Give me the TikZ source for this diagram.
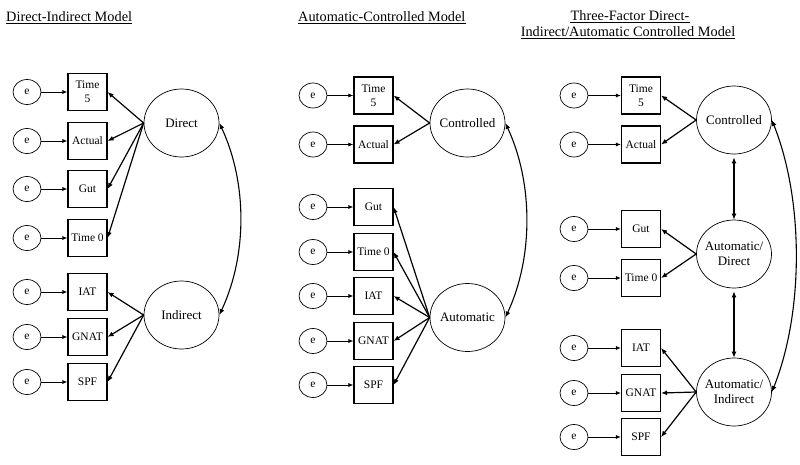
\documentclass[tikz,border=0pt]{standalone}
\usepackage{fontspec}
\setmainfont{Liberation Serif}
\usetikzlibrary{shapes.geometric,arrows.meta}
\begin{document}
\begin{tikzpicture}[x=1pt,y=-1pt,
  err/.style={ellipse,draw,line width=0.7pt,minimum width=28pt,minimum height=25pt,inner sep=0pt,font=\fontsize{11.5}{13}\selectfont},
  obs/.style={rectangle,draw,line width=1.1pt,minimum width=39pt,minimum height=37pt,inner sep=0pt,align=center,font=\fontsize{11.5}{14}\selectfont},
  lat/.style={ellipse,draw,line width=0.7pt,minimum width=75pt,minimum height=68pt,inner sep=0pt},
  lattext/.style={align=center,inner sep=0pt,font=\fontsize{13}{15}\selectfont},
  ttl/.style={inner sep=0pt,font=\fontsize{14.3}{16}\selectfont},
  uline/.style={line width=0.6pt},
  earr/.style={-{Latex[length=5pt,width=4pt]},line width=0.8pt},
  larr/.style={-{Latex[length=6pt,width=5pt]},line width=1.2pt},
  corr/.style={{Latex[length=6pt,width=5pt]}-{Latex[length=6pt,width=5pt]},line width=1.1pt}]
\useasboundingbox (0,0) rectangle (800,464);

% titles
\node[ttl,anchor=base west] (t1) at (6,21) {Direct-Indirect Model};
\draw[uline] ([yshift=-2.5pt]t1.base west) -- ([yshift=-2.5pt]t1.base east);
\node[ttl,anchor=base west] (t2) at (298,21) {Automatic-Controlled Model};
\draw[uline] ([yshift=-2.5pt]t2.base west) -- ([yshift=-2.5pt]t2.base east);
\node[ttl,anchor=base] (t3a) at (630,20) {Three-Factor Direct-};
\draw[uline] ([yshift=-2.5pt]t3a.base west) -- ([yshift=-2.5pt]t3a.base east);
\node[ttl,anchor=base] (t3b) at (628,36) {Indirect/Automatic Controlled Model};
\draw[uline] ([yshift=-2.5pt]t3b.base west) -- ([yshift=-2.5pt]t3b.base east);

% ---------- panel 1 ----------
\node[lat] (D1) at (181.5,123) {};
\node[lattext] (D1t) at (D1) {Direct};
\node[lat] (I1) at (181.5,315) {};
\node[lattext] (I1t) at (I1) {Indirect};
\foreach \n/\y/\t in {a/92/{Time\\5}, b/141/Actual, c/189/Gut, d/238/{Time 0}, f/292/IAT, g/337/GNAT, h/382/SPF} {
  \node[err] (pAe\n) at (27,\y) {e};
  \node[obs] (pAo\n) at (87.5,\y) {\t};
  \draw[earr] (pAe\n) -- (pAo\n);
}
\foreach \n in {a,b,c,d} \draw[larr] (D1.west) -- (pAo\n.east);
\foreach \n in {f,g,h} \draw[larr] (I1.west) -- (pAo\n.east);
\draw[corr] (D1.east) .. controls +(28,60) and +(28,-60) .. (I1.east);

% ---------- panel 2 ----------
\node[lat] (C2) at (467.5,123) {};
\node[lattext] (C2t) at (C2) {Controlled};
\node[lat] (A2) at (467.5,317.5) {};
\node[lattext] (A2t) at (A2) {Automatic};
\foreach \n/\y/\t in {a/95.5/{Time\\5}, b/144.5/Actual, c/207/Gut, d/252/{Time 0}, f/296/IAT, g/341/GNAT, h/385/SPF} {
  \node[err] (pBe\n) at (313,\y) {e};
  \node[obs] (pBo\n) at (373.5,\y) {\t};
  \draw[earr] (pBe\n) -- (pBo\n);
}
\foreach \n in {a,b} \draw[larr] (C2.west) -- (pBo\n.east);
\foreach \n in {c,d,f,g,h} \draw[larr] (A2.west) -- (pBo\n.east);
\draw[corr] (C2.east) .. controls +(28,60) and +(28,-60) .. (A2.east);

% ---------- panel 3 ----------
\node[lat] (C3) at (734,120) {};
\node[lattext] (C3t) at (C3) {Controlled};
\node[lat] (AD3) at (734,254) {};
\node[lattext] (AD3t) at (AD3) {Automatic/\\Direct};
\node[lat] (AI3) at (734,392) {};
\node[lattext] (AI3t) at (AI3) {Automatic/\\Indirect};
\foreach \n/\y/\t in {a/95.5/{Time\\5}, b/144.5/Actual, c/229/Gut, d/278/{Time 0}, f/348/IAT, g/393/GNAT, h/437/SPF} {
  \node[err] (pCe\n) at (574,\y) {e};
  \node[obs] (pCo\n) at (641,\y) {\t};
  \draw[earr] (pCe\n) -- (pCo\n);
}
\foreach \n in {a,b} \draw[larr] (C3.west) -- (pCo\n.east);
\foreach \n in {c,d} \draw[larr] (AD3.west) -- (pCo\n.east);
\foreach \n in {f,g,h} \draw[larr] (AI3.west) -- (pCo\n.east);
\draw[corr,shorten <=3pt] (C3.south) -- (AD3.north);
\draw[corr,shorten <=3pt] (AD3.south) -- (AI3.north);
\draw[corr] (C3.east) .. controls +(32,80) and +(32,-80) .. (AI3.east);
\end{tikzpicture}
\end{document}
